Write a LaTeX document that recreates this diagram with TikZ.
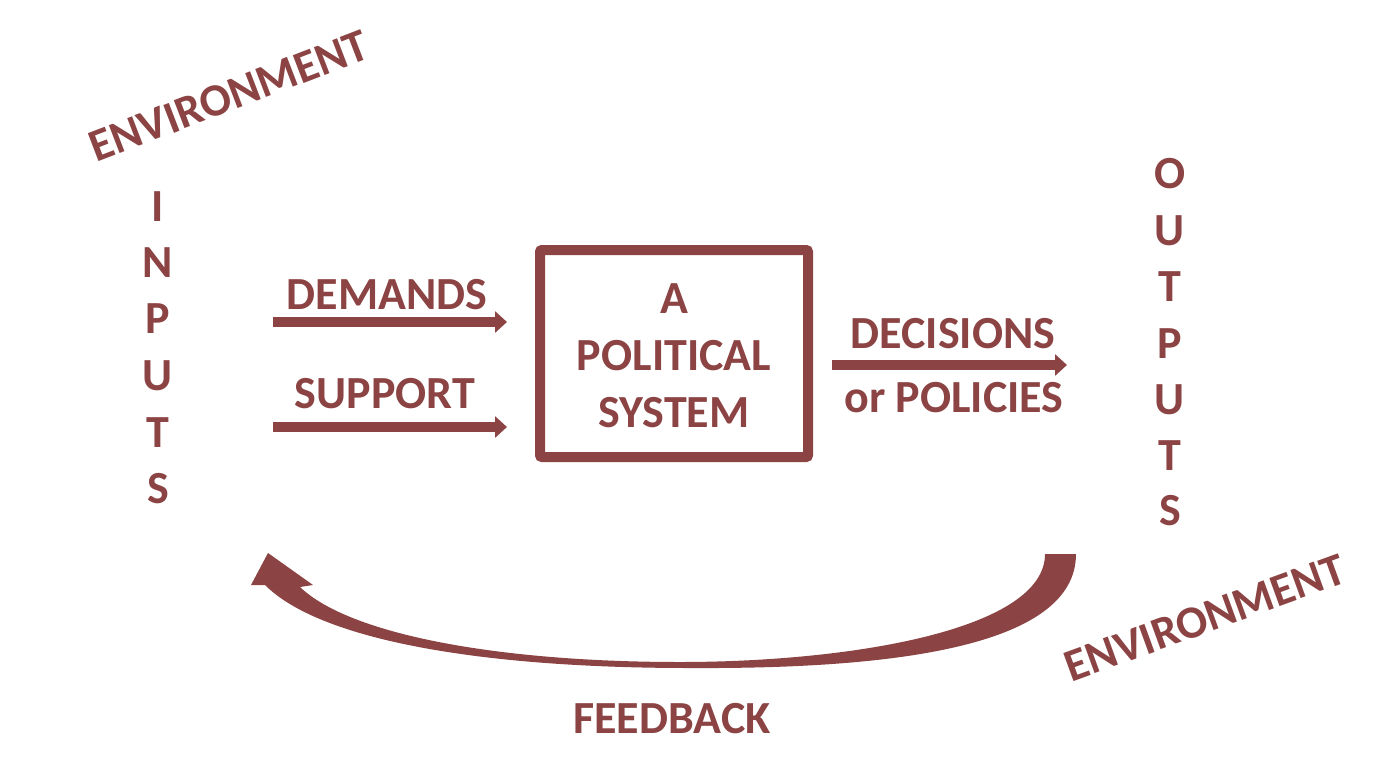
\documentclass[tikz,border=0pt]{standalone}
\usepackage{fontspec}
\setmainfont{Carlito}
\usetikzlibrary{arrows.meta}
\definecolor{maroon}{RGB}{140,67,67}
\begin{document}
\begin{tikzpicture}[x=1pt,y=-1pt,
  lbl/.style={text=maroon,font=\fontsize{46}{54}\selectfont\bfseries,inner sep=0pt,anchor=base},
  flow/.style={draw=maroon,line width=10pt,-{Triangle[length=12pt,width=21pt]}},
  sysbox/.style={draw=maroon,line width=10pt,rounded corners=2pt,minimum width=268pt,minimum height=207pt,inner sep=0pt}]
\useasboundingbox[fill=white] (0,0) rectangle (1385,772);
% environment labels
\node[lbl,rotate=21] (envT) at (234,110) {ENVIRONMENT};
\node[lbl,rotate=20] (envB) at (1210,632) {ENVIRONMENT};
% inputs column
\foreach \c/\y [count=\i] in {I/221,N/277,P/333,U/390,T/447,S/503}
  \node[lbl] (in\i) at (158,\y) {\c};
% outputs column
\foreach \c/\y [count=\i] in {O/188,U/245,T/301,P/358,U/414,T/470,S/525}
  \node[lbl] (out\i) at (1170,\y) {\c};
% system box
\node[sysbox] (sys) at (674,353.5) {};
\node[lbl] (sysA) at (674,313) {A};
\node[lbl] (sysP) at (674,370) {POLITICAL};
\node[lbl] (sysS) at (674,427) {SYSTEM};
% input arrows
\node[lbl] (dem) at (387,309) {DEMANDS};
\node[lbl] (sup) at (385,408) {SUPPORT};
\coordinate (demS) at (273,322);
\coordinate (demE) at (507,322);
\coordinate (supS) at (273,427);
\coordinate (supE) at (507,427);
\draw[flow] (demS) -- (demE);
\draw[flow] (supS) -- (supE);
% output arrow
\node[lbl] (dec) at (953,348) {DECISIONS};
\node[lbl] (pol) at (954,412) {or POLICIES};
\coordinate (decS) at (832,365);
\coordinate (decE) at (1067,365);
\draw[flow] (decS) -- (decE);
% feedback
\coordinate (fbRo) at (1076,554);
\coordinate (fbRi) at (1045,554);
\coordinate (fbTip) at (268,553);
\fill[maroon] (fbRo) .. controls (1076,650) and (880,669) .. (690,668)
  .. controls (480,668) and (320,640) .. (265,585)
  -- (251,585) -- (fbTip) -- (313,585) -- (300,587)
  .. controls (350,635) and (500,662) .. (680,662)
  .. controls (850,662) and (1045,630) .. (fbRi) -- cycle;
\node[lbl] (fb) at (672,733) {FEEDBACK};
\end{tikzpicture}
\end{document}
